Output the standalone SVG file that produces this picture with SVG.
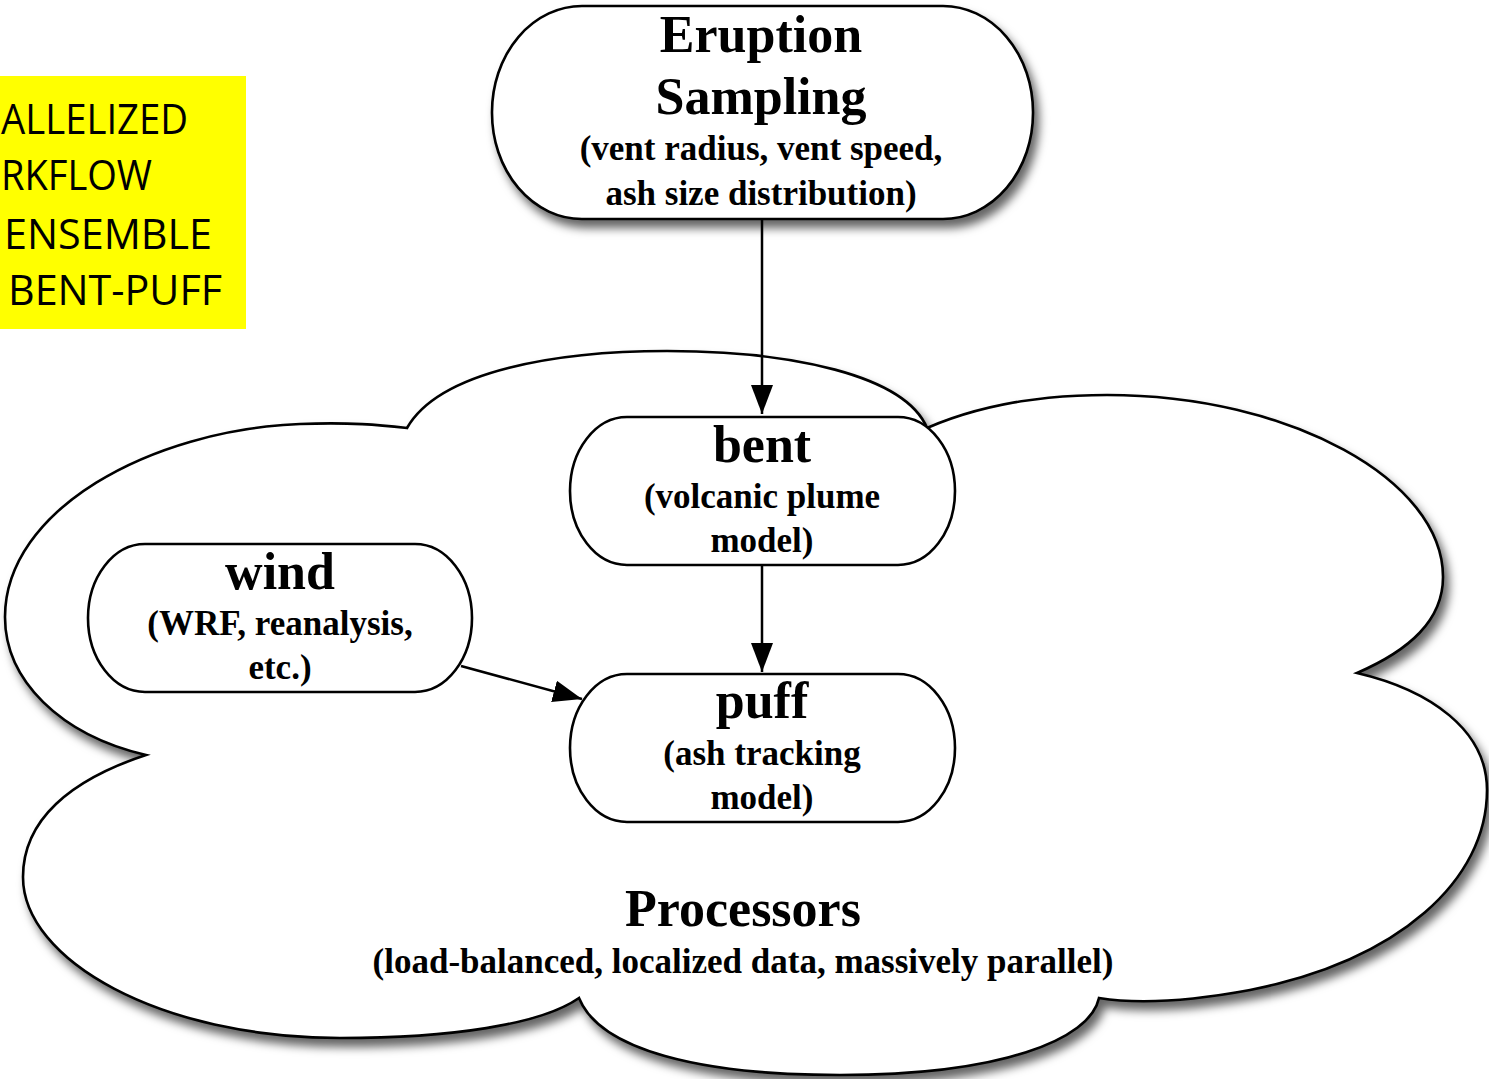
<svg xmlns="http://www.w3.org/2000/svg" width="1489" height="1079" viewBox="0 0 1489 1079">
<defs>
<filter id="shadow" x="-10%" y="-10%" width="125%" height="130%">
<feDropShadow dx="5" dy="8" stdDeviation="5" flood-color="#000" flood-opacity="0.6"/>
</filter>
<marker id="arrow" markerUnits="userSpaceOnUse" markerWidth="30" markerHeight="24" refX="29" refY="11" orient="auto">
<path d="M0,0 L29,11 L0,22 z" fill="#000"/>
</marker>
<style>
.shape{fill:#fff;stroke:#000;stroke-width:2.6}
.title{font-family:"Liberation Serif","Times New Roman",serif;font-weight:bold;font-size:52px;text-anchor:middle;fill:#000}
.sub{font-family:"Liberation Serif","Times New Roman",serif;font-weight:bold;font-size:35px;text-anchor:middle;fill:#000}
.note{font-family:"Open Sans","Liberation Sans",sans-serif;font-size:42px;fill:#000}
.conn{fill:none;stroke:#000;stroke-width:2.5;marker-end:url(#arrow)}
</style>
</defs>
<rect width="1489" height="1079" fill="#fff"/>

<g id="note">
<rect x="0" y="76" width="246" height="253" fill="#ffff00"/>
<text class="note" x="1" y="134" textLength="187" lengthAdjust="spacingAndGlyphs">ALLELIZED</text>
<text class="note" x="1" y="190" textLength="151" lengthAdjust="spacingAndGlyphs">RKFLOW</text>
<text class="note" x="4" y="249" textLength="208" lengthAdjust="spacingAndGlyphs">ENSEMBLE</text>
<text class="note" x="8" y="305" textLength="214" lengthAdjust="spacingAndGlyphs">BENT-PUFF</text>
</g>

<g id="processors">
<path class="shape" filter="url(#shadow)" d="M407,428 C440,370 560,351 667,351 C790,351 905,375 927,428 C980,405 1040,395 1107,395 C1290,395 1443,480 1443,577 C1443,620 1410,650 1357,673 C1430,690 1487,730 1487,790 C1487,880 1400,960 1250,990 C1180,1003 1130,1003 1099,998 C1090,1040 1000,1075 840,1075 C700,1075 600,1050 579,998 C540,1025 450,1038 340,1038 C160,1038 23,960 23,877 C23,820 70,780 146,755 C60,735 5,680 5,617 C5,510 150,430 300,424 C350,422 380,425 407,428 Z"/>
<text class="title" x="743" y="926">Processors</text>
<text class="sub" x="743" y="973">(load-balanced, localized data, massively parallel)</text>
</g>

<g id="eruption">
<rect class="shape" filter="url(#shadow)" x="492" y="6" width="541" height="213" rx="90" ry="106"/>
<text class="title" x="761" y="52">Eruption</text>
<text class="title" x="761" y="114">Sampling</text>
<text class="sub" x="761" y="160">(vent radius, vent speed,</text>
<text class="sub" x="761" y="205">ash size distribution)</text>
</g>

<g id="bent">
<rect class="shape" x="570" y="417" width="385" height="148" rx="57" ry="74"/>
<text class="title" x="762" y="462">bent</text>
<text class="sub" x="762" y="508">(volcanic plume</text>
<text class="sub" x="762" y="552">model)</text>
</g>

<g id="wind">
<rect class="shape" x="88" y="544" width="384" height="148" rx="57" ry="74"/>
<text class="title" x="280" y="589">wind</text>
<text class="sub" x="280" y="635">(WRF, reanalysis,</text>
<text class="sub" x="280" y="679">etc.)</text>
</g>

<g id="puff">
<rect class="shape" x="570" y="674" width="385" height="148" rx="57" ry="74"/>
<text class="title" x="762" y="718">puff</text>
<text class="sub" x="762" y="765">(ash tracking</text>
<text class="sub" x="762" y="809">model)</text>
</g>

<g id="connectors">
<path class="conn" d="M762,219 L762,414"/>
<path class="conn" d="M762,565 L762,672"/>
<path class="conn" d="M461,666 L582,699"/>
</g>
</svg>
